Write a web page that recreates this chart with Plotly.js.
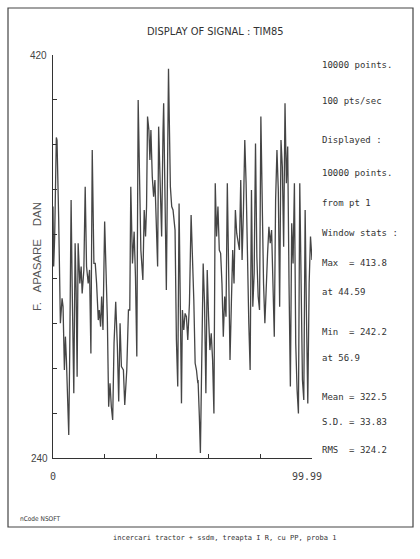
<!DOCTYPE html>
<html>
<head>
<meta charset="utf-8">
<script src="https://cdn.plot.ly/plotly-3.0.1.min.js"></script>
<style>html,body{margin:0;padding:0;background:#fff;}#chart{width:420px;height:559px;}</style>
</head>
<body>
<div id="chart"></div>
<script>
// Signal (time in s, force in daN): peaks and troughs of the trace
const timeSec = [
0,0.26,0.65,1.29,1.55,2.2,2.59,2.85,3.5,3.88,4.4,4.79,5.18,5.7,6.08,6.47,6.99,7.38,8.03,8.54,
8.93,9.32,9.71,10.36,10.87,11.26,11.91,12.43,12.95,13.59,14.11,14.63,15.15,15.79,16.31,16.83,17.48,17.86,18.38,18.77,
19.29,19.94,20.45,20.97,21.49,22.01,22.52,23.04,23.56,24.21,24.85,25.37,25.89,26.41,27.18,27.7,28.48,29.13,29.64,30.03,
30.68,31.33,31.84,32.36,32.88,33.4,33.92,34.69,35.21,35.73,36.12,36.5,37.02,37.41,37.8,38.32,38.84,39.35,39.87,40.39,
40.78,41.42,41.94,42.46,42.72,43.24,43.76,44.59,44.92,45.31,45.83,46.34,47.12,47.64,48.16,48.67,49.19,49.6,49.96,50.48,
51.0,51.51,52.03,52.68,53.32,53.84,54.36,54.88,55.39,55.91,56.0,56.5,56.9,57.98,58.5,59.02,59.54,60.06,60.57,61.09,
61.61,62.13,62.64,63.16,63.68,64.2,64.72,65.23,65.75,66.27,66.79,67.3,67.82,68.34,68.86,69.38,69.89,70.41,70.93,71.45,
71.96,72.48,73.0,73.52,74.04,74.55,75.07,75.59,76.11,76.62,77.14,77.66,78.18,78.7,79.21,79.73,80.25,80.77,81.28,81.8,
82.32,82.84,83.36,83.87,84.39,84.91,85.43,85.94,86.46,86.98,87.5,88.02,88.53,89.05,89.57,90.09,90.61,91.12,91.64,92.16,
92.68,93.2,93.71,94.23,94.75,95.27,95.78,96.3,96.82,97.34,97.86,98.37,98.89,99.41,99.99
];
const forceDaN = [
352.3,325.5,338.9,383.2,382.0,346.3,321.0,300.2,311.3,307.6,279.3,294.2,283.8,268.9,250.3,288.2,355.2,318.0,268.9,335.9,
315.0,276.3,335.9,318.0,325.5,313.5,324.0,361.2,325.5,318.0,324.0,286.7,377.6,326.9,326.9,318.0,301.6,306.1,298.7,312.1,
297.2,345.6,326.9,303.1,262.9,273.4,262.9,257.0,291.2,309.8,289.7,265.2,300.2,280.8,279.3,263.7,279.3,306.1,306.1,361.2,
326.9,341.1,321.0,285.3,399.9,370.1,332.9,319.5,350.8,338.9,352.3,392.5,386.5,373.1,386.5,365.7,356.7,364.2,338.9,325.5,
388.0,362.7,338.9,385.0,398.4,356.7,315.0,413.8,377.6,361.2,352.3,350.8,341.8,292.7,271.9,353.7,304.6,264.4,306.1,297.2,
304.6,303.1,292.7,309.1,348.5,332.9,310.6,282.3,279.3,273.4,274.8,258.5,242.2,326.9,309.1,268.9,324.0,303.1,288.2,295.7,
283.8,259.9,362.7,338.9,352.3,332.9,331.4,318.0,294.2,312.1,303.1,362.7,325.5,283.8,309.1,332.9,318.0,350.8,340.3,335.9,
332.9,364.2,328.4,350.8,382.0,362.7,319.5,300.2,279.3,359.7,307.6,322.5,380.5,329.9,312.1,306.1,392.5,347.8,318.0,300.2,
321.0,331.4,343.3,335.9,341.8,318.0,294.2,355.2,377.6,359.7,307.6,382.0,370.1,334.4,398.4,362.7,379.1,318.0,271.9,344.8,
326.9,362.7,291.2,270.4,259.9,362.7,318.0,274.8,265.9,350.8,303.1,264.4,318.0,338.9,328.4
];
const xTickVals = [20, 40, 60, 80];
const yTickVals = [240, 260, 280, 300, 320, 340, 360, 380, 400, 420];
const xEndLabels = ['0', '99.99'];
const yEndLabels = ['240', '420'];
const titleText = 'DISPLAY OF SIGNAL : TIM85';
const yTitleText = 'F.\u00A0\u00A0\u00A0APASARE\u00A0\u00A0\u00A0\u00A0DAN';
const infoLines = ['10000 points.', '100 pts/sec', 'Displayed :', '10000 points.', 'from pt 1',
  'Window stats :', 'Max\u00A0\u00A0= 413.8', 'at 44.59', 'Min\u00A0\u00A0= 242.2', 'at 56.9',
  'Mean = 322.5', 'S.D. = 33.83', 'RMS\u00A0\u00A0= 324.2'];
const footerLeft = 'nCode NSOFT';
const captionText = 'incercari tractor + ssdm, treapta I R, cu PP, proba 1';

// layout geometry (pixels)
const W = 420, H = 559, L = 53, R = 312, T = 55, B = 458;
const px = x => (x - L) / (R - L);
const py = y => (B - y) / (B - T);
const infoY = [65, 101, 140, 173, 203, 233, 263, 292, 332, 358, 397, 422, 450];

const mono = 'DejaVu Sans Mono, Liberation Mono, monospace';
const cond = 'DejaVu Sans Condensed, Liberation Sans Narrow, sans-serif';
const annotations = [];
annotations.push({text: titleText, x: px(215), y: py(31), xref: 'paper', yref: 'paper', showarrow: false,
  xanchor: 'center', yanchor: 'middle', font: {family: cond, size: 11, color: '#333'}});
annotations.push({text: yTitleText, x: px(37), y: py(257), xref: 'paper', yref: 'paper', showarrow: false,
  textangle: -90, xanchor: 'center', yanchor: 'middle', font: {family: 'Liberation Sans, Arial, sans-serif', size: 11.5, color: '#555'}});
infoLines.forEach((t, i) => annotations.push({text: t, x: px(320), y: py(infoY[i]), xref: 'paper', yref: 'paper',
  showarrow: false, xanchor: 'left', yanchor: 'middle', font: {family: mono, size: 9, color: '#333'}}));
annotations.push({text: yEndLabels[1], x: 0, y: 420, xref: 'paper', yref: 'y', xshift: -4, showarrow: false,
  xanchor: 'right', yanchor: 'middle', font: {family: 'Liberation Sans, Arial, sans-serif', size: 10, color: '#444'}});
annotations.push({text: yEndLabels[0], x: 0, y: 240, xref: 'paper', yref: 'y', xshift: -3, showarrow: false,
  xanchor: 'right', yanchor: 'middle', font: {family: 'Liberation Sans, Arial, sans-serif', size: 10, color: '#444'}});
annotations.push({text: xEndLabels[0], x: 0, y: py(477), xref: 'x', yref: 'paper', showarrow: false,
  xanchor: 'center', yanchor: 'middle', font: {family: mono, size: 10, color: '#444'}});
annotations.push({text: xEndLabels[1], x: 99.99, y: py(477), xref: 'x', yref: 'paper', xshift: -5, showarrow: false,
  xanchor: 'center', yanchor: 'middle', font: {family: mono, size: 10, color: '#444'}});
annotations.push({text: footerLeft, x: px(18), y: py(519), xref: 'paper', yref: 'paper', showarrow: false,
  xanchor: 'left', yanchor: 'middle', font: {family: cond, size: 6.5, color: '#333'}});
annotations.push({text: captionText, x: px(224), y: py(538), xref: 'paper', yref: 'paper', showarrow: false,
  xanchor: 'center', yanchor: 'middle', font: {family: mono, size: 7, color: '#333'}});

const trace = {x: timeSec, y: forceDaN, type: 'scatter', mode: 'lines',
  line: {color: '#454545', width: 1.3}, hoverinfo: 'skip', showlegend: false};

const layout = {
  width: W, height: H,
  margin: {l: L, r: W - R, t: T, b: H - B, pad: 0},
  paper_bgcolor: '#fff', plot_bgcolor: '#fff',
  showlegend: false,
  xaxis: {range: [0, 99.99], showgrid: false, zeroline: false, showline: true, linecolor: '#333', linewidth: 1,
    ticks: 'inside', ticklen: 4, tickcolor: '#333', tickvals: xTickVals, showticklabels: false, fixedrange: true},
  yaxis: {range: [240, 420], showgrid: false, zeroline: false, showline: true, linecolor: '#333', linewidth: 1,
    ticks: 'inside', ticklen: 4, tickcolor: '#333', tickvals: yTickVals, showticklabels: false, fixedrange: true},
  shapes: [{type: 'rect', xref: 'paper', yref: 'paper', x0: px(8), x1: px(413), y0: py(527), y1: py(8),
    line: {color: '#444', width: 1.2}, fillcolor: 'rgba(0,0,0,0)'}],
  annotations: annotations
};
Plotly.newPlot('chart', [trace], layout, {staticPlot: true, displayModeBar: false});
</script>
</body>
</html>
